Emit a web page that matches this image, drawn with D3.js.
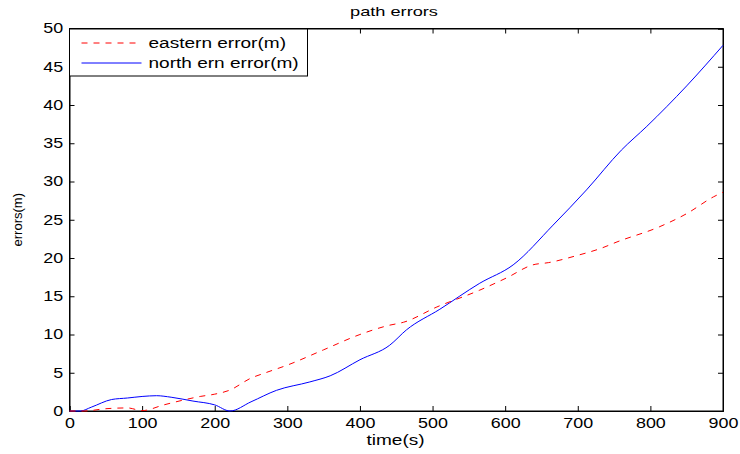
<!DOCTYPE html>
<html>
<head>
<meta charset="utf-8">
<script src="https://cdn.jsdelivr.net/npm/d3@7"></script>
<style>
  body { margin: 0; background: #fff; }
  text { font-family: "Liberation Sans", Arial, sans-serif; }
</style>
</head>
<body>
<script>
// eastern error (red dashed)
var eastT = [0, 20, 50, 80, 100, 130, 160, 180, 200, 220, 250, 270, 300, 350, 400, 440, 460, 506, 565, 602, 638, 660, 698, 733, 754, 813, 850, 887, 900];
var eastV = [0, 0, 0.3, 0.4, 0.05, 0.8, 1.5, 1.9, 2.2, 2.7, 4.3, 5.0, 6.0, 8.0, 10.0, 11.2, 11.6, 13.6, 15.8, 17.4, 19.1, 19.4, 20.3, 21.3, 22.1, 24.1, 25.8, 28.0, 28.6];
// northern error (blue solid)
var northT = [0, 15, 30, 58, 80, 100, 120, 140, 170, 200, 221, 250, 285, 331, 359, 400, 441, 464, 510, 565, 611, 666, 712, 760, 795, 850, 900];
var northV = [0, 0, 0.5, 1.5, 1.7, 1.9, 2.0, 1.8, 1.3, 0.8, 0, 1.2, 2.7, 3.8, 4.6, 6.7, 8.6, 10.6, 13.3, 16.7, 19.1, 24.3, 28.9, 34.1, 37.2, 42.5, 47.8];

var xTicks = [0, 100, 200, 300, 400, 500, 600, 700, 800, 900];
var yTicks = [0, 5, 10, 15, 20, 25, 30, 35, 40, 45, 50];

var east = eastT.map(function(t, i) { return [t, eastV[i]]; });
var north = northT.map(function(t, i) { return [t, northV[i]]; });

var width = 740, height = 454;
var margin = {left: 69.5, right: 17, top: 28.5, bottom: 43};
var w = width - margin.left - margin.right,
    h = height - margin.top - margin.bottom;

var x = d3.scaleLinear().domain([0, 900]).range([0, w]);
var y = d3.scaleLinear().domain([0, 50]).range([h, 0]);

var svg = d3.select('body').append('svg')
  .attr('width', width)
  .attr('height', height);

// the reference text is stretched sideways, so text gets a scaleX
function wideText(parent, px, py, str, size, sx, anchor) {
  return parent.append('text')
    .attr('transform', 'translate(' + px + ',' + py + ') scale(' + sx + ',1)')
    .attr('text-anchor', anchor || 'start')
    .attr('font-size', size)
    .text(str);
}

var main = svg.append('g')
  .attr('transform', 'translate(' + margin.left + ',' + margin.top + ')');

// box
main.append('rect')
  .attr('width', w).attr('height', h)
  .attr('fill', 'none').attr('stroke', '#000').attr('stroke-width', 1);

// axes, ticks pointing inward
var xAxis = d3.axisBottom(x).tickValues(xTicks).tickSize(-5).tickPadding(7).tickFormat(d3.format('d'));
var yAxis = d3.axisLeft(y).tickValues(yTicks).tickSize(-5).tickPadding(5).tickFormat(d3.format('d'));
var xTop = d3.axisTop(x).tickValues(xTicks).tickSize(-5).tickFormat('');
var yRight = d3.axisRight(y).tickValues(yTicks).tickSize(-5).tickFormat('');

main.append('g').attr('transform', 'translate(0,' + h + ')').call(xAxis);
main.append('g').call(yAxis);
main.append('g').call(xTop);
main.append('g').attr('transform', 'translate(' + w + ',0)').call(yRight);

main.selectAll('.domain').attr('stroke', '#000');
main.selectAll('.tick line').attr('stroke', '#000');
main.selectAll('.tick text')
  .attr('font-size', 14).attr('fill', '#000')
  .attr('transform', 'scale(1.28,1)')
  .style('font-family', '"Liberation Sans", Arial, sans-serif');

var line = d3.line()
  .x(function(d) { return x(d[0]); })
  .y(function(d) { return y(d[1]); })
  .curve(d3.curveMonotoneX);

main.append('path').datum(north)
  .attr('d', line)
  .attr('fill', 'none').attr('stroke', '#0000ff').attr('stroke-width', 1);

main.append('path').datum(east)
  .attr('d', line)
  .attr('fill', 'none').attr('stroke', '#ff0000').attr('stroke-width', 1)
  .attr('stroke-dasharray', '6,6');

// legend
var leg = main.append('g').attr('transform', 'translate(0,0.5)');
leg.append('rect')
  .attr('x', 0).attr('y', 0).attr('width', 238).attr('height', 47)
  .attr('fill', '#fff').attr('stroke', '#000').attr('stroke-width', 1);
leg.append('line').attr('x1', 12).attr('x2', 68).attr('y1', 14).attr('y2', 14)
  .attr('stroke', '#ff0000').attr('stroke-dasharray', '6,6');
leg.append('line').attr('x1', 12).attr('x2', 72).attr('y1', 34).attr('y2', 34)
  .attr('stroke', '#0000ff');
wideText(leg, 79, 19, 'eastern error(m)', 14, 1.36);
wideText(leg, 79, 39, 'north ern error(m)', 14, 1.36);

// title and labels
wideText(svg, 394, 16, 'path errors', 13, 1.4, 'middle');
wideText(svg, 395.5, 445, 'time(s)', 14, 1.36, 'middle');

svg.append('text')
  .attr('transform', 'translate(22,' + (margin.top + h / 2) + ') rotate(-90)')
  .attr('text-anchor', 'middle').attr('font-size', 13)
  .text('errors(m)');
</script>
</body>
</html>
